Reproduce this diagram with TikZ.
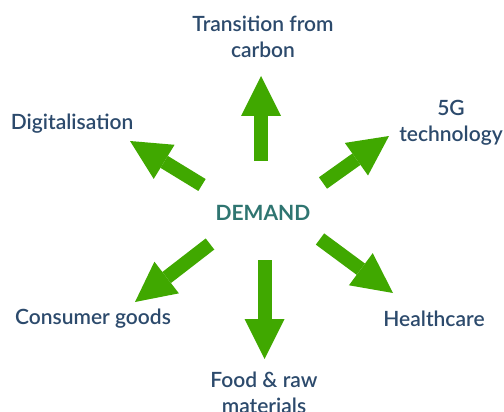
\documentclass[tikz,border=0pt]{standalone}
\usepackage{fontspec}
\setmainfont{Lato}
\newfontfamily\labfont{Lato Semibold}
\usetikzlibrary{arrows.meta}
\definecolor{agreen}{HTML}{40A800}
\definecolor{lbl}{HTML}{2C4A6C}
\definecolor{dem}{HTML}{2F7571}
\begin{document}
\begin{tikzpicture}[x=1pt,y=-1pt,
  bigarrow/.style={draw=agreen,line width=14pt,line cap=butt,
    -{Triangle[width=40pt,length=40pt,line width=0pt,fill=agreen]}},
  lab/.style={text=lbl,font=\labfont\fontsize{21}{26}\selectfont,align=center,inner sep=0pt,anchor=base}]
\useasboundingbox (0,0) rectangle (504,412);
\node[text=dem,font=\fontsize{21}{23}\bfseries\selectfont,inner sep=0pt,anchor=base] (demand) at (263,220) {DEMAND};
\node[lab] (trans) at (263,58) {Transition from\\carbon};
\node[lab] (digit) at (72,129) {Digitalisation};
\node[lab] (fiveg) at (451,142) {5G\\technology};
\node[lab] (cons) at (93,324) {Consumer goods};
\node[lab] (health) at (434,326) {Healthcare};
\node[lab] (food) at (264,413) {Food \& raw\\materials};
\coordinate (tu) at (261,161); \coordinate (hu) at (261,76);
\coordinate (td) at (264.5,260); \coordinate (hd) at (264.5,359);
\coordinate (tdg) at (202,185); \coordinate (hdg) at (130,141);
\coordinate (tfg) at (323,183); \coordinate (hfg) at (389,136);
\coordinate (tcs) at (210,244); \coordinate (hcs) at (135,302);
\coordinate (thc) at (320,239); \coordinate (hhc) at (393,293);
\draw[bigarrow] (tu) -- (hu);
\draw[bigarrow] (td) -- (hd);
\draw[bigarrow] (tdg) -- (hdg);
\draw[bigarrow] (tfg) -- (hfg);
\draw[bigarrow] (tcs) -- (hcs);
\draw[bigarrow] (thc) -- (hhc);
\end{tikzpicture}
\end{document}
